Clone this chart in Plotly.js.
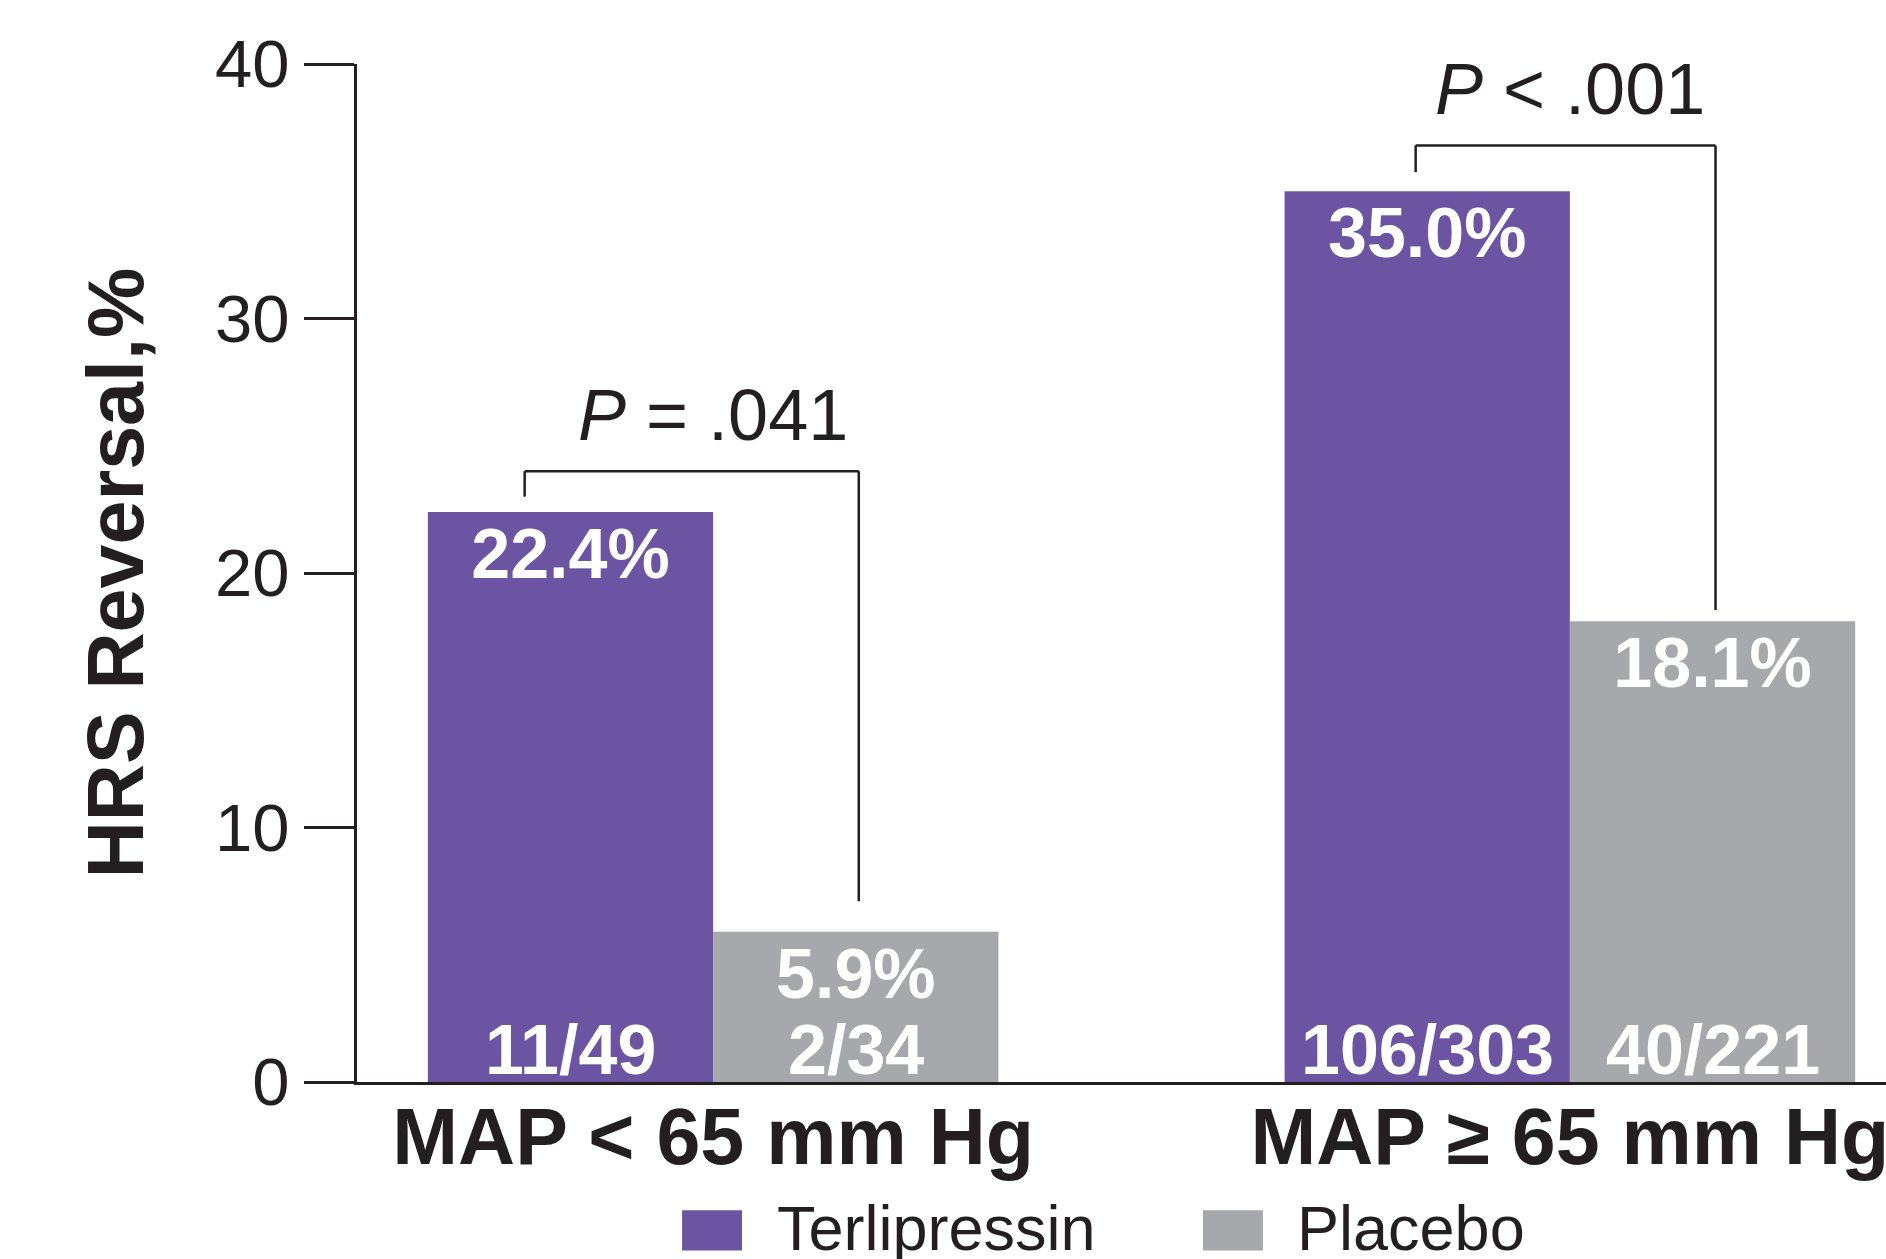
<!DOCTYPE html>
<html><head><meta charset="utf-8">
<script src="https://cdn.plot.ly/plotly-3.0.1.min.js"></script>
<style>html,body{margin:0;padding:0;background:#fff}#chart{width:1886px;height:1259px}</style>
</head><body><div id="chart"></div>
<script>
// ---- data ----
const categories = ['MAP < 65 mm Hg', 'MAP ≥ 65 mm Hg'];
const seriesNames = ['Terlipressin', 'Placebo'];
const terlipressinPct = [22.4, 35.0];
const placeboPct = [5.9, 18.1];
const terlipressinCounts = ['11/49', '106/303'];
const placeboCounts = ['2/34', '40/221'];
const pValueLabels = ['<i>P</i> = .041', '<i>P</i> &lt; .001'];
const yTickVals = [0, 10, 20, 30, 40];
const yTitle = 'HRS Reversal,%';

// bracket geometry (data units)
const bracketTop = [24.0, 36.8];
const bracketLeftEnd = [23.0, 35.75];
const bracketRightEnd = [7.1, 18.55];
const bracketLeftX = [-0.22, 0.82];
const bracketRightX = [0.17, 1.17];

// ---- styles ----
const FONT = 'Liberation Sans, Arial, Helvetica, sans-serif';
const INK = '#231f20';
const colors = ['#6b55a3', '#a7a8ab'];
const bargap = 0.334;
const half = (1 - bargap) / 4; // offset of each bar centre from category centre

const traces = [
  {type: 'bar', name: seriesNames[0], x: categories, y: terlipressinPct,
   marker: {color: colors[0], line: {width: 0}},
   texttemplate: '%{y:.1f}%', textposition: 'inside', insidetextanchor: 'end', textangle: 0,
   textfont: {family: FONT, size: 70, color: '#ffffff', weight: 700}, constraintext: 'none',
   showlegend: false, hoverinfo: 'skip'},
  {type: 'bar', name: seriesNames[1], x: categories, y: placeboPct,
   marker: {color: colors[1], line: {width: 0}},
   texttemplate: '%{y:.1f}%', textposition: 'inside', insidetextanchor: 'end', textangle: 0,
   textfont: {family: FONT, size: 70, color: '#ffffff', weight: 700}, constraintext: 'none',
   showlegend: false, hoverinfo: 'skip'}
];

const annotations = [];
const shapes = [];
categories.forEach((c, i) => {
  annotations.push({x: i - half, y: 0, xref: 'x', yref: 'y', text: terlipressinCounts[i],
    showarrow: false, yanchor: 'bottom', xanchor: 'center', yshift: -9,
    font: {family: FONT, size: 70, color: '#ffffff', weight: 700}});
  annotations.push({x: i + half, y: 0, xref: 'x', yref: 'y', text: placeboCounts[i],
    showarrow: false, yanchor: 'bottom', xanchor: 'center', yshift: -9,
    font: {family: FONT, size: 70, color: '#ffffff', weight: 700}});
  annotations.push({x: i, y: bracketTop[i] + 2.2, xref: 'x', yref: 'y', text: pValueLabels[i],
    showarrow: false, yanchor: 'middle', xanchor: 'center',
    font: {family: FONT, size: 72, color: INK}});
  const ln = {color: INK, width: 2.5};
  shapes.push({type: 'line', xref: 'x', yref: 'y', x0: bracketLeftX[i], x1: bracketLeftX[i], y0: bracketLeftEnd[i], y1: bracketTop[i], line: ln});
  shapes.push({type: 'line', xref: 'x', yref: 'y', x0: bracketLeftX[i], x1: bracketRightX[i], y0: bracketTop[i], y1: bracketTop[i], line: ln});
  shapes.push({type: 'line', xref: 'x', yref: 'y', x0: bracketRightX[i], x1: bracketRightX[i], y0: bracketTop[i], y1: bracketRightEnd[i], line: ln});
});

// custom legend (large swatches)
const legendSwatchX = [0.2126, 0.5533];
const legendTextX = [0.2735, 0.6135];
seriesNames.forEach((n, i) => {
  shapes.push({type: 'rect', xref: 'paper', yref: 'paper', x0: legendSwatchX[i], x1: legendSwatchX[i] + 0.0392,
    y0: -0.1654, y1: -0.1261, fillcolor: colors[i], line: {width: 0}});
  annotations.push({x: legendTextX[i], y: -0.1435, xref: 'paper', yref: 'paper', text: n,
    showarrow: false, xanchor: 'left', yanchor: 'middle',
    font: {family: FONT, size: 63, color: INK}});
});

const layout = {
  width: 1886, height: 1259,
  margin: {l: 357, r: 0, t: 64, b: 176.5, pad: 0},
  paper_bgcolor: '#ffffff', plot_bgcolor: '#ffffff',
  barmode: 'group', bargap: bargap, bargroupgap: 0,
  showlegend: false,
  xaxis: {type: 'category', range: [-0.4157, 1.369], showgrid: false, zeroline: false,
    showline: true, linewidth: 3, linecolor: INK, ticks: '',
    tickvals: categories, ticktext: categories.map(s => s.replace('<', '&lt;')),
    tickfont: {family: FONT, size: 79, color: INK, weight: 700}, ticklabelstandoff: -16},
  yaxis: {range: [0, 40], tickvals: yTickVals, showgrid: false, zeroline: false,
    showline: true, linewidth: 3, linecolor: INK,
    ticks: 'outside', ticklen: 50, tickwidth: 3, tickcolor: INK, ticklabelstandoff: 1,
    tickfont: {family: FONT, size: 67, color: INK},
    title: {text: yTitle, standoff: 46, font: {family: FONT, size: 79, color: INK, weight: 700}}},
  annotations: annotations,
  shapes: shapes,
  font: {family: FONT, color: INK}
};

Plotly.newPlot('chart', traces, layout, {displayModeBar: false, staticPlot: true});
</script>
</body></html>
